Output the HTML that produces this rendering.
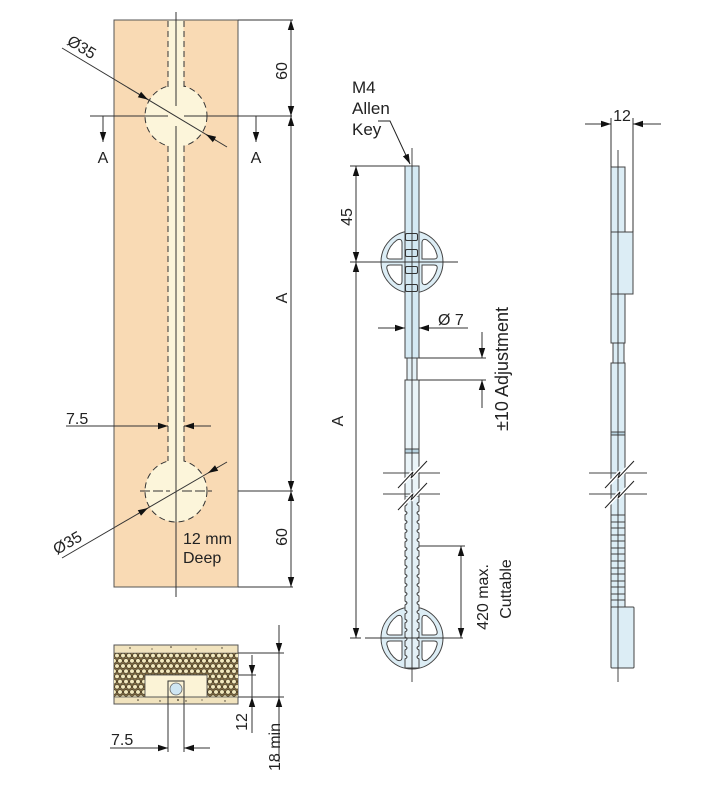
<!DOCTYPE html>
<html><head><meta charset="utf-8"><style>
html,body{margin:0;padding:0;background:#fff;}
svg{display:block;}
text{font-family:"Liberation Sans",Arial,sans-serif;font-size:16px;fill:#222;}
</style></head><body>
<svg width="721" height="807" viewBox="0 0 721 807" xmlns="http://www.w3.org/2000/svg">
<defs>
<marker id="ar" viewBox="0 0 10 8" refX="10" refY="4" markerWidth="10" markerHeight="8" markerUnits="userSpaceOnUse" orient="auto-start-reverse"><path d="M0,0.8 L10,4 L0,7.2 z" fill="#111"/></marker>
<pattern id="hex" width="6" height="10.4" patternUnits="userSpaceOnUse" x="114" y="653">
<rect width="6" height="10.4" fill="#8d7548"/>
<circle cx="3" cy="2.6" r="2.35" fill="#f3e9be" stroke="#2e2719" stroke-width="0.7"/>
<circle cx="0" cy="7.8" r="2.35" fill="#f3e9be" stroke="#2e2719" stroke-width="0.7"/>
<circle cx="6" cy="7.8" r="2.35" fill="#f3e9be" stroke="#2e2719" stroke-width="0.7"/>
</pattern>
<path id="win" d="M10,-3 L10,-19 Q10,-24 15,-22 A26,26 0 0 1 25,-7 Q26,-3 22,-3 Z"/>
<path id="zz" d="M0,0 L15,-16 L13,-10 L29,-27" fill="none"/>
</defs>

<!-- ===== LEFT PANEL ===== -->
<rect x="114" y="20" width="124" height="567" fill="#f9dab4" stroke="#555" stroke-width="1"/>
<g fill="#fcf5da" stroke="#333" stroke-width="1" stroke-dasharray="6,4">
<circle cx="176" cy="116" r="31"/>
<circle cx="176" cy="491" r="31"/>
</g>
<rect x="168.5" y="20.5" width="15" height="441.5" fill="#fcf5da"/>
<g stroke="#333" stroke-width="1" stroke-dasharray="6,4">
<line x1="168" y1="21" x2="168" y2="87"/>
<line x1="184" y1="21" x2="184" y2="87"/>
<line x1="168" y1="146" x2="168" y2="461"/>
<line x1="184" y1="146" x2="184" y2="461"/>
</g>
<g stroke="#333" stroke-width="1" fill="none">
<line x1="176" y1="12" x2="176" y2="106"/>
<line x1="176" y1="126" x2="176" y2="597"/>
<line x1="90" y1="116" x2="168" y2="116"/>
<line x1="184" y1="116" x2="292" y2="116"/>
<line x1="140" y1="491" x2="170" y2="491" stroke-dasharray="10,3"/>
<line x1="182" y1="491" x2="212" y2="491" stroke-dasharray="10,3"/>
<line x1="103" y1="116" x2="103" y2="142" marker-end="url(#ar)"/>
<line x1="256" y1="116" x2="256" y2="142" marker-end="url(#ar)"/>
<line x1="62" y1="48" x2="227" y2="147"/>
<line x1="138" y1="93.6" x2="148" y2="99.6" marker-end="url(#ar)"/>
<line x1="216" y1="140.4" x2="206" y2="134.4" marker-end="url(#ar)"/>
<line x1="62" y1="558" x2="227" y2="462"/>
<line x1="138" y1="513.8" x2="148" y2="508" marker-end="url(#ar)"/>
<line x1="218" y1="467.2" x2="208" y2="473" marker-end="url(#ar)"/>
<line x1="66" y1="426" x2="168" y2="426" marker-end="url(#ar)"/>
<line x1="211" y1="426" x2="184" y2="426" marker-end="url(#ar)"/>
<line x1="238" y1="20" x2="293" y2="20"/>
<line x1="238" y1="491" x2="293" y2="491"/>
<line x1="238" y1="587" x2="293" y2="587"/>
<line x1="291" y1="20" x2="291" y2="116" marker-start="url(#ar)" marker-end="url(#ar)"/>
<line x1="291" y1="116" x2="291" y2="491" marker-start="url(#ar)" marker-end="url(#ar)"/>
<line x1="291" y1="491" x2="291" y2="587" marker-start="url(#ar)" marker-end="url(#ar)"/>
</g>
<text x="103" y="163" text-anchor="middle">A</text>
<text x="256" y="163" text-anchor="middle">A</text>
<text transform="translate(66,44) rotate(31)">Ø35</text>
<text transform="translate(57,555) rotate(-30)">Ø35</text>
<text x="66" y="424">7.5</text>
<text x="183" y="544">12 mm</text>
<text x="183" y="563">Deep</text>
<text transform="translate(287,71) rotate(-90)" text-anchor="middle">60</text>
<text transform="translate(287,298) rotate(-90)" text-anchor="middle">A</text>
<text transform="translate(287,537) rotate(-90)" text-anchor="middle">60</text>

<!-- ===== CROSS SECTION ===== -->
<rect x="114" y="645" width="124" height="59" fill="#f1e3be" stroke="#555" stroke-width="1"/>
<rect x="114" y="653" width="124" height="44" fill="url(#hex)"/>
<g fill="#3a3226">
<circle cx="130" cy="648" r="0.7"/><circle cx="152" cy="649" r="0.6"/><circle cx="171" cy="647" r="0.8"/><circle cx="196" cy="649" r="0.6"/><circle cx="222" cy="648" r="0.7"/>
<circle cx="138" cy="700" r="0.8"/><circle cx="160" cy="701" r="0.7"/><circle cx="178" cy="700" r="0.9"/><circle cx="186" cy="701" r="0.7"/><circle cx="202" cy="700" r="0.6"/><circle cx="225" cy="701" r="0.7"/>
</g>
<rect x="145" y="675" width="62" height="22" fill="#fbf3d6" stroke="#444" stroke-width="0.8"/>
<line x1="114" y1="653" x2="238" y2="653" stroke="#555" stroke-width="0.6"/>
<line x1="114" y1="697" x2="238" y2="697" stroke="#555" stroke-width="0.8"/>
<rect x="168" y="681" width="16" height="16" fill="#fbf3d6" stroke="#333" stroke-width="1"/>
<circle cx="176" cy="689" r="6" fill="#cfe6f3" stroke="#666" stroke-width="0.8"/>
<g stroke="#333" stroke-width="1" fill="none">
<line x1="168" y1="697" x2="168" y2="752"/>
<line x1="184" y1="697" x2="184" y2="752"/>
<line x1="110" y1="748" x2="168" y2="748" marker-end="url(#ar)"/>
<line x1="210" y1="748" x2="184" y2="748" marker-end="url(#ar)"/>
<line x1="238" y1="653" x2="284" y2="653"/>
<line x1="238" y1="697" x2="284" y2="697"/>
<line x1="238" y1="675" x2="256" y2="675"/>
<line x1="279" y1="625" x2="279" y2="762"/>
<line x1="279" y1="640" x2="279" y2="653" marker-end="url(#ar)"/>
<line x1="279" y1="710" x2="279" y2="697" marker-end="url(#ar)"/>
<line x1="252" y1="655" x2="252" y2="733"/>
<line x1="252" y1="662" x2="252" y2="675" marker-end="url(#ar)"/>
<line x1="252" y1="710" x2="252" y2="697" marker-end="url(#ar)"/>
</g>
<text x="111" y="745">7.5</text>
<text transform="translate(247,722) rotate(-90)" text-anchor="middle">12</text>
<text transform="translate(280,747) rotate(-90)" text-anchor="middle">18 min</text>

<!-- ===== MIDDLE DRAWING ===== -->
<text x="352" y="93" style="font-size:17px">M4</text>
<text x="352" y="114" style="font-size:17px">Allen</text>
<text x="352" y="135" style="font-size:17px">Key</text>
<polyline points="378,121 390,121 410,164" fill="none" stroke="#222" stroke-width="1" marker-end="url(#ar)"/>

<g transform="translate(412,262)">
<circle r="31" fill="#dcedf5" stroke="#444" stroke-width="1"/>
<g fill="#fff" stroke="#444" stroke-width="1">
<use href="#win"/><use href="#win" transform="scale(-1,1)"/><use href="#win" transform="scale(1,-1)"/><use href="#win" transform="scale(-1,-1)"/>
</g></g>
<g transform="translate(412,638)">
<circle r="31" fill="#dcedf5" stroke="#444" stroke-width="1"/>
<g fill="#fff" stroke="#444" stroke-width="1">
<use href="#win"/><use href="#win" transform="scale(-1,1)"/><use href="#win" transform="scale(1,-1)"/><use href="#win" transform="scale(-1,-1)"/>
</g></g>

<g stroke="#444" stroke-width="1">
<rect x="405" y="166" width="14" height="192" fill="#d4e9f3"/>
<rect x="407" y="358" width="10" height="22" fill="#e3f0f6"/>
<rect x="405" y="380" width="14" height="117" fill="#eaf4f8"/>
<rect x="405" y="449" width="14" height="4" fill="#b8d3e0"/>
</g>
<rect x="405" y="497" width="14" height="171" fill="#e3f0f6"/>
<path d="M405,497 v5 q4,2 0,4 v5 q4,2 0,4 v5 q4,2 0,4 v5 q4,2 0,4 v5 q4,2 0,4 v5 q4,2 0,4 v5 q4,2 0,4 v5 q4,2 0,4 v5 q4,2 0,4 v5 q4,2 0,4 v5 q4,2 0,4 v5 q4,2 0,4 v5 q4,2 0,4 v5 q4,2 0,4 v5 q4,2 0,4 v5 q4,2 0,4 v5 q4,2 0,4 v5 q4,2 0,4 V668 H419 V659 q-4,-2 0,-4 v-5 q-4,-2 0,-4 v-5 q-4,-2 0,-4 v-5 q-4,-2 0,-4 v-5 q-4,-2 0,-4 v-5 q-4,-2 0,-4 v-5 q-4,-2 0,-4 v-5 q-4,-2 0,-4 v-5 q-4,-2 0,-4 v-5 q-4,-2 0,-4 v-5 q-4,-2 0,-4 v-5 q-4,-2 0,-4 v-5 q-4,-2 0,-4 v-5 q-4,-2 0,-4 v-5 q-4,-2 0,-4 v-5 q-4,-2 0,-4 v-5 q-4,-2 0,-4 v-5 q-4,-2 0,-4 V497" fill="none" stroke="#444" stroke-width="1"/>
<g fill="#cfe5f0" stroke="#333" stroke-width="1">
<rect x="405.5" y="233.5" width="12" height="7" rx="1.5"/>
<rect x="405.5" y="249.5" width="12" height="7" rx="1.5"/>
<rect x="405.5" y="266.5" width="12" height="7" rx="1.5"/>
<rect x="405.5" y="284.5" width="12" height="7" rx="1.5"/>
</g>
<line x1="412" y1="148" x2="412" y2="682" stroke="#333" stroke-width="0.9"/>

<g stroke="#444" stroke-width="1">
<line x1="383" y1="473" x2="440" y2="473"/>
<line x1="383" y1="494" x2="440" y2="494"/>
</g>
<g transform="translate(398,488)"><use href="#zz" stroke="#fff" stroke-width="4"/><use href="#zz" stroke="#222" stroke-width="1"/></g>
<g transform="translate(398,510)"><use href="#zz" stroke="#fff" stroke-width="4"/><use href="#zz" stroke="#222" stroke-width="1"/></g>

<g stroke="#333" stroke-width="1" fill="none">
<line x1="350" y1="262" x2="458" y2="262"/>
<line x1="350" y1="638" x2="361" y2="638"/>
<line x1="365" y1="638" x2="463" y2="638"/>
<line x1="350" y1="166" x2="405" y2="166"/>
<line x1="356" y1="166" x2="356" y2="262" marker-start="url(#ar)" marker-end="url(#ar)"/>
<line x1="356" y1="262" x2="356" y2="638" marker-start="url(#ar)" marker-end="url(#ar)"/>
<line x1="378" y1="328" x2="405" y2="328" marker-end="url(#ar)"/>
<line x1="468" y1="328" x2="419" y2="328" marker-end="url(#ar)"/>
<line x1="419" y1="358" x2="486" y2="358"/>
<line x1="419" y1="380" x2="486" y2="380"/>
<line x1="482" y1="332" x2="482" y2="358" marker-end="url(#ar)"/>
<line x1="482" y1="408" x2="482" y2="380" marker-end="url(#ar)"/>
<line x1="419" y1="546" x2="465" y2="546"/>
<line x1="461" y1="546" x2="461" y2="638" marker-start="url(#ar)" marker-end="url(#ar)"/>
</g>
<text transform="translate(352,217) rotate(-90)" text-anchor="middle">45</text>
<text transform="translate(343,421) rotate(-90)" text-anchor="middle">A</text>
<text x="438" y="325">Ø 7</text>
<text transform="translate(508,369) rotate(-90)" text-anchor="middle" style="font-size:18px">±10 Adjustment</text>
<text transform="translate(488,597) rotate(-90)" text-anchor="middle">420 max.</text>
<text transform="translate(511,589) rotate(-90)" text-anchor="middle">Cuttable</text>

<!-- ===== RIGHT DRAWING ===== -->
<g stroke="#444" stroke-width="1" fill="#dcedf5">
<rect x="611" y="167" width="14" height="65"/>
<rect x="611" y="232" width="22" height="62"/>
<rect x="611" y="294" width="14" height="49"/>
<rect x="613" y="343" width="11" height="20"/>
<rect x="611" y="363" width="14" height="152"/>
<rect x="611" y="432" width="14" height="3" fill="#b8d3e0"/>
<rect x="611" y="515" width="14" height="92"/>
<rect x="611" y="607" width="23" height="61" rx="1"/>
</g>
<g stroke="#444" stroke-width="1">
<line x1="611" y1="522" x2="625" y2="522"/><line x1="611" y1="528" x2="625" y2="528"/>
<line x1="611" y1="535" x2="625" y2="535"/><line x1="611" y1="541" x2="625" y2="541"/>
<line x1="611" y1="548" x2="625" y2="548"/><line x1="611" y1="554" x2="625" y2="554"/>
<line x1="611" y1="561" x2="625" y2="561"/><line x1="611" y1="568" x2="625" y2="568"/>
<line x1="611" y1="574" x2="625" y2="574"/><line x1="611" y1="581" x2="625" y2="581"/>
<line x1="611" y1="587" x2="625" y2="587"/><line x1="611" y1="594" x2="625" y2="594"/>
<line x1="611" y1="600" x2="625" y2="600"/>
</g>
<line x1="618" y1="150" x2="618" y2="682" stroke="#333" stroke-width="0.9"/>
<g stroke="#444" stroke-width="1">
<line x1="589" y1="473" x2="647" y2="473"/>
<line x1="589" y1="494" x2="647" y2="494"/>
</g>
<g transform="translate(605,488)"><use href="#zz" stroke="#fff" stroke-width="4"/><use href="#zz" stroke="#222" stroke-width="1"/></g>
<g transform="translate(605,508)"><use href="#zz" stroke="#fff" stroke-width="4"/><use href="#zz" stroke="#222" stroke-width="1"/></g>
<g stroke="#333" stroke-width="1" fill="none">
<line x1="611" y1="118" x2="611" y2="167"/>
<line x1="633" y1="118" x2="633" y2="232"/>
<line x1="585" y1="124" x2="611" y2="124" marker-end="url(#ar)"/>
<line x1="661" y1="124" x2="633" y2="124" marker-end="url(#ar)"/>
</g>
<text x="622" y="121" text-anchor="middle">12</text>
</svg>
</body></html>
